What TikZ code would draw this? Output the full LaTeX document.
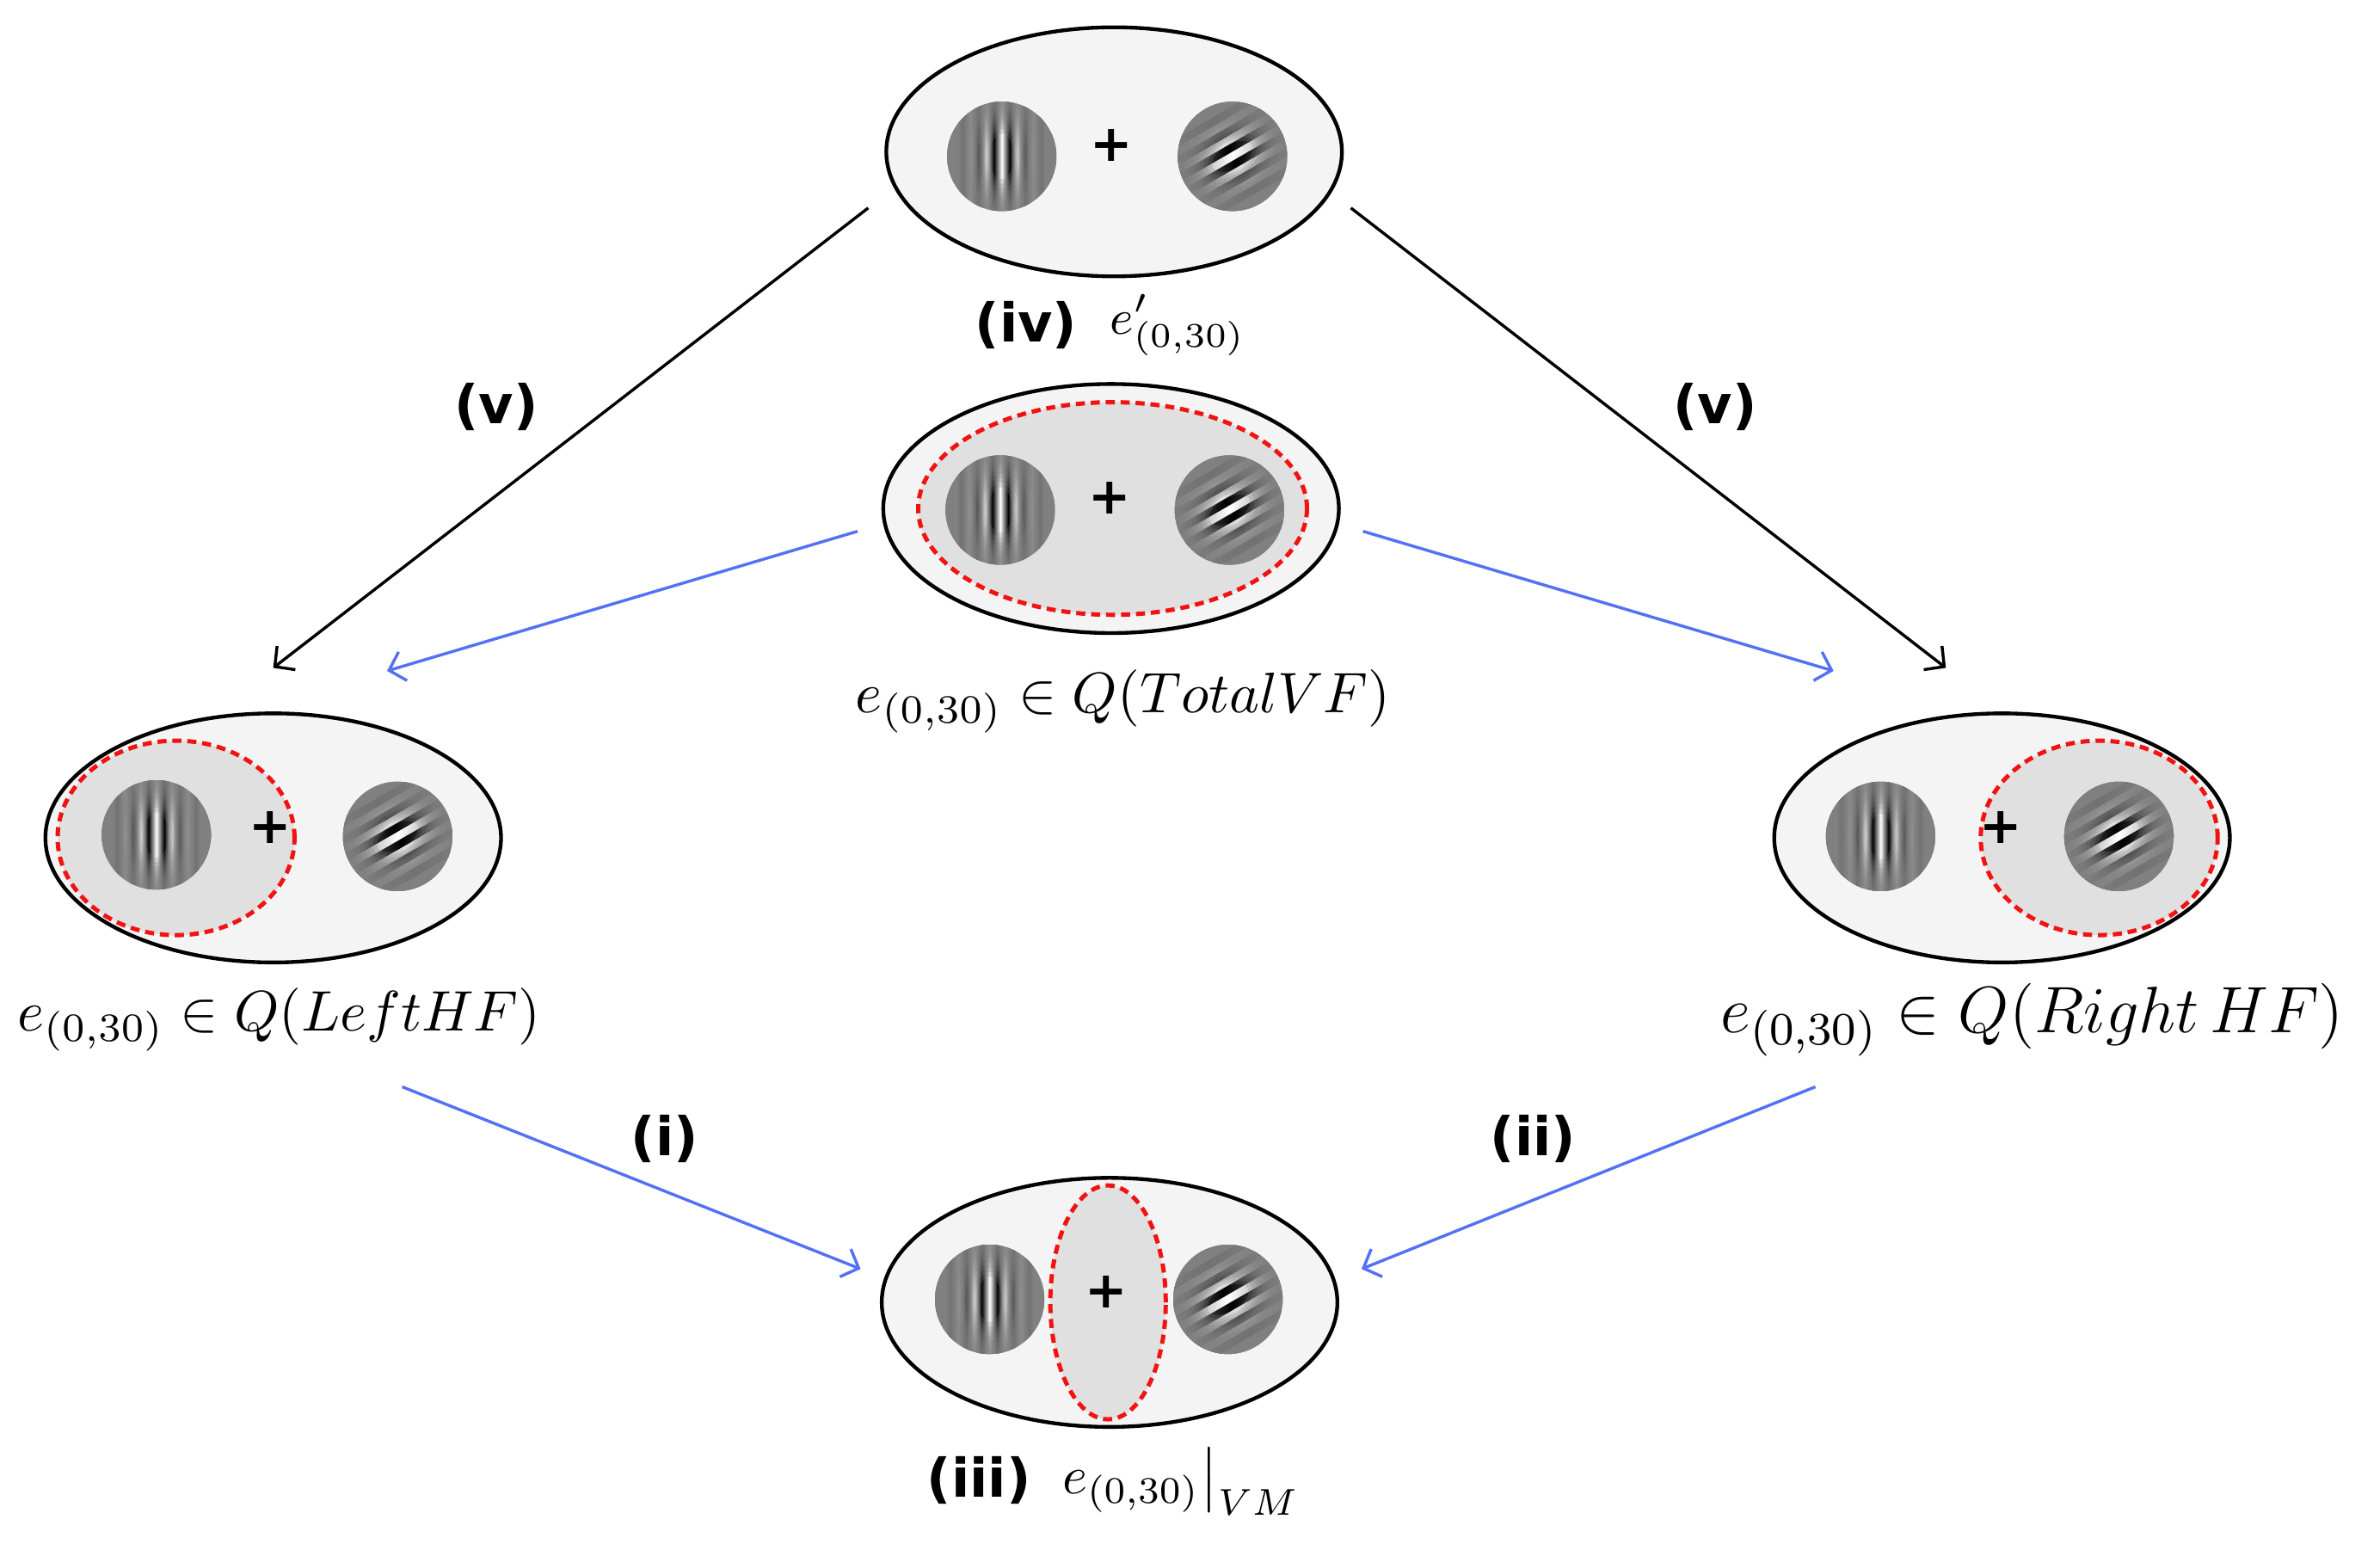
\RequirePackage{fix-cm}
\documentclass[tikz,border=0pt]{standalone}
\usepackage{amsmath}
\usepackage{fontspec}
\newfontfamily\lblfont{DejaVu Sans}
\usetikzlibrary{shapes.geometric,arrows.meta,positioning}

\definecolor{fieldfill}{RGB}{244,244,244}
\definecolor{zonefill}{RGB}{224,224,224}
\definecolor{zonered}{RGB}{242,18,18}
\definecolor{gabgray}{RGB}{128,128,128}
\definecolor{arrowblue}{RGB}{84,112,246}

\tikzset{
  pics/gabor/.style={code={
    \clip (0,0) circle (0.36cm);
    \fill[gabgray] (0,0) circle (0.36cm);
    \foreach \k/\c in {-5/black,-4/white,-3/black,-2/white,-1/black,0/white,1/black,2/white,3/black,4/white,5/black}
      \shade[left color=gabgray,right color=gabgray,middle color=\c] (\k*5.2-2.6,-40) rectangle (\k*5.2+2.6,40);
    % envelope
    \foreach \i in {1,...,8}
      \fill[gabgray,fill opacity=0.25,even odd rule] (0,0) circle (0.4cm) (0,0) ellipse ({0.06cm+\i*0.02cm} and {0.12cm+\i*0.03cm});
  }}
}

\begin{document}
\begin{tikzpicture}[x=0.01cm,y=-0.01cm,
  field/.style={ellipse,draw,line width=0.7pt,fill=fieldfill,inner sep=0pt,minimum width=3cm,minimum height=1.64cm},
  zone/.style={ellipse,draw=zonered,line width=0.8pt,dash pattern=on 1.7pt off 1.1pt,fill=zonefill,inner sep=0pt},
  plus/.style={font=\lblfont\bfseries\fontsize{9.5}{10}\selectfont,inner sep=0pt},
  tag/.style={font=\lblfont\bfseries\fontsize{10}{12}\selectfont,inner sep=0pt},
  lbl/.style={font=\fontsize{10.7}{13}\selectfont,inner sep=0pt},
  blk/.style={-{Straight Barb[length=2.7pt,width=5.6pt]},line width=0.55pt},
  blu/.style={blk,draw=arrowblue}]
\useasboundingbox (0,0) rectangle (1568,1017);

% (iv) full field
\node[field] (full) at (734,100) {};
\pic at (660,103) {gabor};
\pic[rotate=-60] at (812,103) {gabor};
\node[plus] (fullfix) at (732,96) {+};
\node[tag] (ivtag) at (676,214) {(iv)};
\node[lbl,font=\fontsize{9.2}{11}\selectfont] (fulllbl) at (776,214) {$e'_{(0,30)}$};

% total visual field
\node[field] (total) at (732,335) {};
\node[zone,minimum width=2.56cm,minimum height=1.40cm] (totalzone) at (733,335) {};
\pic at (659,336) {gabor};
\pic[rotate=-60] at (810,336) {gabor};
\node[plus] (totalfix) at (731,328) {+};
\node[lbl] (totallbl) at (740,462) {$e_{(0,30)} \in Q(TotalVF)$};

% left hemifield
\node[field] (lefthf) at (180,552) {};
\node[zone,minimum width=1.56cm,minimum height=1.28cm] (leftzone) at (116,552) {};
\pic at (103,550) {gabor};
\pic[rotate=-60] at (262,551) {gabor};
\node[plus] (leftfix) at (178,545) {+};
\node[lbl] (leftlbl) at (184,672) {$e_{(0,30)} \in Q(LeftHF)$};

% right hemifield
\node[field] (righthf) at (1319,552) {};
\node[zone,minimum width=1.56cm,minimum height=1.28cm] (rightzone) at (1383,552) {};
\pic at (1239,551) {gabor};
\pic[rotate=-60] at (1396,551) {gabor};
\node[plus] (rightfix) at (1318,545) {+};
\node[lbl,font=\fontsize{12.3}{14}\selectfont] (rightlbl) at (1339,672) {$e_{(0,30)} \in Q(Right\,HF)$};

% vertical meridian
\node[field] (vm) at (731,858) {};
\node[zone,minimum width=0.76cm,minimum height=1.54cm] (vmzone) at (730,858) {};
\pic at (652,856) {gabor};
\pic[rotate=-60] at (809,856) {gabor};
\node[plus] (vmfix) at (729,851) {+};
\node[tag] (iiitag) at (645,975) {(iii)};
\node[lbl,font=\fontsize{10}{12}\selectfont] (vmlbl) at (776,976) {$\left.e_{(0,30)}\right|_{VM}$};

% step tags
\node[tag] (vtagl) at (327,268) {(v)};
\node[tag] (vtagr) at (1130,268) {(v)};
\node[tag] (itag) at (438,750) {(i)};
\node[tag] (iitag) at (1010,750) {(ii)};

% arrow ends
\coordinate (fullL) at (572,137);
\coordinate (fullR) at (890,137);
\coordinate (leftT) at (180,440);
\coordinate (rightT) at (1282,440);
\coordinate (totalL) at (565,350);
\coordinate (totalR) at (898,350);
\coordinate (leftB) at (255,442);
\coordinate (rightB) at (1208,442);
\coordinate (leftD) at (265,716);
\coordinate (rightD) at (1196,716);
\coordinate (vmL) at (567,836);
\coordinate (vmR) at (897,836);

\draw[blk] (fullL) -- (leftT);
\draw[blk] (fullR) -- (rightT);
\draw[blu] (totalL) -- (leftB);
\draw[blu] (totalR) -- (rightB);
\draw[blu] (leftD) -- (vmL);
\draw[blu] (rightD) -- (vmR);
\end{tikzpicture}
\end{document}
